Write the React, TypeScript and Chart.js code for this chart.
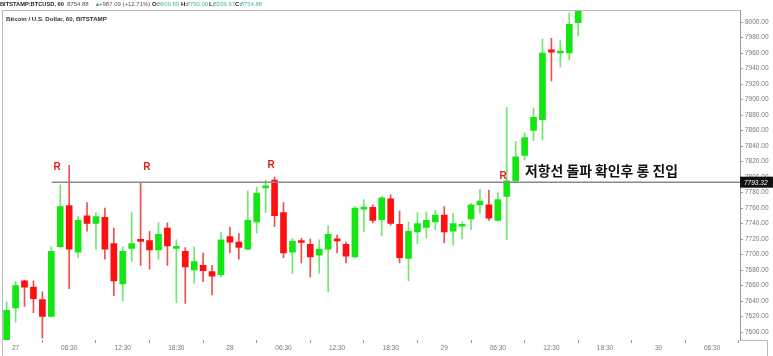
import React, { useEffect, useRef } from "react";
import { Chart, registerables } from "chart.js";

Chart.register(...registerables);

// ---- data (hourly candles, BTCUSD) ----
const opens = [
  7582, 7631, 7666, 7658, 7642, 7620, 7710, 7763, 7703, 7750,
  7740, 7748, 7714, 7662, 7708, 7719, 7718, 7706, 7734, 7708,
  7704, 7680, 7686, 7678, 7674, 7723, 7716, 7707, 7742, 7786,
  7796, 7754, 7703, 7717.5, 7713, 7699, 7707, 7720, 7713, 7697,
  7758.5, 7761, 7745, 7772, 7739, 7695, 7729, 7735, 7742, 7751,
  7730, 7736.5, 7746, 7764, 7764, 7744, 7775, 7795, 7828, 7860,
  7874, 7964, 7960, 7960, 7999,
];
const highs = [
  7639, 7665, 7667, 7666, 7652, 7710, 7790, 7815, 7749, 7767,
  7754, 7760, 7734, 7710, 7754, 7793, 7730, 7741, 7741, 7719,
  7709, 7710, 7702, 7686, 7729, 7735, 7727, 7782, 7787, 7796,
  7800, 7767, 7721, 7721, 7720, 7719, 7737, 7725, 7716, 7762,
  7771, 7764, 7775, 7777, 7756, 7742, 7754, 7755, 7757, 7762,
  7753, 7742, 7766, 7784, 7783, 7780, 7890, 7846, 7857, 7889,
  7978, 7979, 7976, 8012, 8040,
];
const lows = [
  7575, 7613, 7633, 7625, 7592, 7619, 7709, 7656, 7696, 7730,
  7707, 7694, 7647, 7640, 7691, 7686, 7681, 7694, 7686, 7638,
  7637, 7663, 7665, 7648, 7671, 7702, 7694, 7706, 7728, 7754,
  7736, 7696, 7676, 7689, 7671, 7676, 7652, 7702, 7689, 7696,
  7729, 7741, 7724, 7738, 7689, 7666, 7714, 7721, 7732, 7715,
  7712, 7720, 7732, 7753, 7744, 7743, 7719, 7793, 7822, 7847,
  7848, 7924, 7942, 7951, 7982,
];
const closes = [
  7628, 7660, 7658, 7643, 7620, 7704, 7762, 7707, 7744, 7740,
  7749, 7707, 7666, 7704, 7714, 7717, 7706, 7726, 7711, 7709.5,
  7684, 7691, 7679, 7672, 7719, 7716, 7709, 7744, 7779, 7788,
  7750, 7702, 7717, 7715.5, 7697, 7707, 7726, 7717.5, 7698, 7760,
  7760, 7744, 7773, 7740, 7696, 7730, 7740, 7744, 7751, 7729,
  7740, 7738, 7764, 7769, 7747, 7771, 7795, 7826, 7851, 7877,
  7960, 7961, 7961.5, 7997, 8025,
];

const xTickIdx = [1, 7, 13, 19, 25, 31, 37, 43, 49, 55, 61, 67, 73, 79];
const xTickLabels = ["27", "06:30", "12:30", "18:30", "28", "06:30", "12:30", "18:30", "29", "06:30", "12:30", "18:30", "30", "06:30"];
const yTickValues = [7600, 7620, 7640, 7660, 7680, 7700, 7720, 7740, 7760, 7780, 7800, 7820, 7840, 7860, 7880, 7900, 7920, 7940, 7960, 7980, 8000];

const resistancePrice = 7793.32;
const resistanceStartIdx = 5.05;
const rMarks = [
  { i: 5.65, p: 7813 },
  { i: 15.7, p: 7813 },
  { i: 29.6, p: 7815 },
  { i: 55.6, p: 7801 },
];
const noteText = "저항선 돌파 확인후 롱 진입";
const noteIdx = 58.05;
const notePrice = 7807.5;

const headerParts = [
  { t: "8754.88", x0: 67, c: "#555", b: false },
  { t: "▲", x0: 94.5, c: "#3aa58a", b: false },
  { t: "+987.09 (+12.71%)", x0: 99, c: "#555", b: false },
  { t: "O:", x0: 152, c: "#222", b: true },
  { t: "8609.89", x0: 157.5, c: "#48b89a", b: false },
  { t: "H:", x0: 181, c: "#222", b: true },
  { t: "8790.00", x0: 186.5, c: "#48b89a", b: false },
  { t: "L:", x0: 209, c: "#222", b: true },
  { t: "8599.67", x0: 213.5, c: "#48b89a", b: false },
  { t: "C:", x0: 235, c: "#222", b: true },
  { t: "8754.88", x0: 240.5, c: "#48b89a", b: false },
];

const GREEN = "#14e614";
const RED = "#ff1010";
const GREEN_WICK = "#6ee86e";
const RED_WICK = "#ee5050";
const FONT = "'Liberation Sans', Arial, sans-serif";

function fitText(ctx: CanvasRenderingContext2D, t: string, x0: number, x1: number, yc: number, color: string, bold: boolean, maxSize: number) {
  ctx.font = `${bold ? "bold " : ""}10px ${FONT}`;
  const w = ctx.measureText(t).width;
  const fs = Math.min(maxSize, (10 * (x1 - x0)) / w);
  ctx.font = `${bold ? "bold " : ""}${fs}px ${FONT}`;
  ctx.fillStyle = color;
  ctx.fillText(t, x0, yc);
}

const overlayPlugin = {
  id: "overlay",
  afterDraw(chart: any) {
    const { ctx, chartArea, scales } = chart;
    const { left, top, right, bottom } = chartArea;
    const x = scales.x;
    const y = scales.y;
    ctx.save();
    // frame
    ctx.strokeStyle = "#b8b8b8";
    ctx.lineWidth = 1;
    ctx.beginPath();
    ctx.moveTo(left, Math.round(top) + 0.5);
    ctx.lineTo(right, Math.round(top) + 0.5);
    ctx.moveTo(Math.round(left) + 0.5, top);
    ctx.lineTo(Math.round(left) + 0.5, bottom + 16);
    ctx.moveTo(right, Math.round(bottom) + 0.5);
    ctx.lineTo(767, Math.round(bottom) + 0.5);
    ctx.moveTo(767.5, bottom);
    ctx.lineTo(767.5, 356);
    ctx.stroke();

    // resistance line
    const ry = y.getPixelForValue(resistancePrice);
    ctx.strokeStyle = "#8a8a8a";
    ctx.lineWidth = 1.5;
    ctx.beginPath();
    ctx.moveTo(x.getPixelForValue(resistanceStartIdx), ry);
    ctx.lineTo(right, ry);
    ctx.stroke();

    // R labels
    ctx.fillStyle = "#e02020";
    ctx.font = `bold 10px ${FONT}`;
    ctx.textAlign = "center";
    ctx.textBaseline = "middle";
    for (const m of rMarks) {
      ctx.fillText("R", x.getPixelForValue(m.i), y.getPixelForValue(m.p));
    }

    // note text
    ctx.fillStyle = "#111";
    let fs = 14;
    ctx.font = `bold ${fs}px 'Noto Sans CJK KR', sans-serif`;
    const w = ctx.measureText(noteText).width;
    fs = (fs * 153) / w;
    ctx.font = `bold ${fs}px 'Noto Sans CJK KR', sans-serif`;
    ctx.textAlign = "left";
    ctx.fillText(noteText, x.getPixelForValue(noteIdx), y.getPixelForValue(notePrice));

    // price box
    ctx.fillStyle = "#111";
    ctx.fillRect(right, ry - 5.5, 773 - right, 11);
    ctx.fillStyle = "#fff";
    ctx.font = `italic 6.5px ${FONT}`;
    ctx.textAlign = "left";
    ctx.fillText(resistancePrice.toFixed(2), right + 4, ry + 0.5);

    // header
    ctx.textBaseline = "middle";
    ctx.textAlign = "left";
    fitText(ctx, "BITSTAMP:BTCUSD, 60", 0, 64, 4.5, "#222", true, 7);
    for (const p of headerParts) {
      ctx.font = `${p.b ? "bold " : ""}6px ${FONT}`;
      ctx.fillStyle = p.c;
      ctx.fillText(p.t, p.x0, 4.5);
    }
    fitText(ctx, "Bitcoin / U.S. Dollar, 60, BITSTAMP", 6, 107, 19, "#333", true, 8);
    ctx.restore();
  },
};

export default function App() {
  const ref = useRef<HTMLCanvasElement | null>(null);
  useEffect(() => {
    document.body.style.margin = "0";
    const canvas = ref.current;
    if (!canvas) return;
    const idx = opens.map((_, i) => i);
    const up = idx.map((i) => closes[i] >= opens[i]);
    const chart = new Chart(canvas, {
      type: "bar",
      data: {
        datasets: [
          {
            label: "body",
            data: idx.map((i) => ({ x: i, y: [opens[i], closes[i]] })) as any,
            backgroundColor: up.map((u) => (u ? GREEN : RED)),
            borderWidth: 0,
            barThickness: 6,
            minBarLength: 2,
            grouped: false,
            order: 0,
          } as any,
          {
            label: "wick",
            data: idx.map((i) => ({ x: i, y: [lows[i], highs[i]] })) as any,
            backgroundColor: up.map((u) => (u ? GREEN_WICK : RED_WICK)),
            borderWidth: 0,
            barThickness: 1,
            grouped: false,
            order: 1,
          } as any,
        ],
      },
      options: {
        responsive: false,
        animation: false,
        layout: { padding: { left: 2.2, top: 10, right: 0, bottom: 0 } },
        plugins: { legend: { display: false }, tooltip: { enabled: false } },
        scales: {
          x: {
            type: "linear",
            min: -0.5,
            max: 82.12,
            offset: false,
            grid: { drawOnChartArea: false, tickLength: 3, color: "#999" },
            border: { display: false },
            ticks: {
              autoSkip: false,
              maxRotation: 0,
              padding: 1,
              color: "#777",
              font: { size: 6.5, family: FONT },
              callback: (v: any) => {
                const k = xTickIdx.indexOf(Number(v));
                return k >= 0 ? xTickLabels[k] : "";
              },
            },
            afterBuildTicks: (s: any) => {
              s.ticks = xTickIdx.map((v) => ({ value: v }));
            },
            afterFit: (s: any) => {
              s.height = 16;
            },
          },
          y: {
            type: "linear",
            position: "right",
            min: 7589.7,
            max: 8015.5,
            grid: { drawOnChartArea: false, tickLength: 3, color: "#999" },
            border: { display: true, color: "#999" },
            ticks: {
              padding: 2,
              color: "#777",
              font: { size: 6.5, family: FONT },
              callback: (v: any) => Number(v).toFixed(2),
            },
            afterBuildTicks: (s: any) => {
              s.ticks = yTickValues.map((v) => ({ value: v }));
            },
            afterFit: (s: any) => {
              s.width = 33;
            },
          },
        },
      },
      plugins: [overlayPlugin],
    });
    return () => chart.destroy();
  }, []);
  return (
    <div style={{ width: 773, height: 356, background: "#fff" }}>
      <canvas ref={ref} width={773} height={356} style={{ display: "block" }} />
    </div>
  );
}
